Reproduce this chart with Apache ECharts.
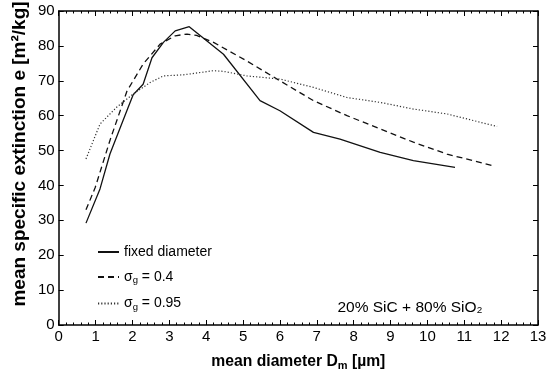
<!DOCTYPE html>
<html><head><meta charset="utf-8">
<script src="https://cdn.jsdelivr.net/npm/echarts@6/dist/echarts.min.js"></script>
<style>html,body{margin:0;padding:0;background:#fff}#c{width:547px;height:371px}</style>
</head><body><div id="c"></div>
<script>
// Data
const fixedX = [0.74, 1.12, 1.39, 1.88, 2.02, 2.29, 2.53, 2.84, 3.16, 3.54, 4.47, 5.46, 6.0, 6.91, 7.63, 8.72, 9.62, 10.75];
const fixedY = [29.2, 39, 49, 62.3, 66, 69, 76.6, 81, 84.3, 85.5, 77.6, 64.3, 61.4, 55.2, 53.3, 49.5, 47.1, 45.2];
const sig04X = [0.74, 0.99, 1.39, 1.85, 2.29, 2.75, 3.16, 3.48, 3.74, 4.2, 5.1, 6.0, 6.91, 7.82, 8.72, 9.62, 10.53, 11.75];
const sig04Y = [33, 39.4, 52.9, 67, 74.8, 80.5, 82.9, 83.4, 83.0, 81, 75.7, 70, 64.3, 60, 56.2, 52.4, 49, 45.7];
const sig095X = [0.74, 1.12, 1.57, 2.02, 2.48, 2.84, 3.38, 4.2, 4.47, 5.1, 6.0, 6.91, 7.82, 8.72, 9.62, 10.53, 11.89];
const sig095Y = [47.6, 57.6, 62.4, 66.2, 69.5, 71.4, 71.7, 72.9, 72.7, 71.4, 70.5, 68.1, 65.2, 63.8, 61.9, 60.5, 56.9];
const seriesNames = ['fixed diameter', 'σg = 0.4', 'σg = 0.95'];
const annotation = '20% SiC + 80% SiO₂';
const yTitle = 'mean specific extinction e [m²/kg]';

const pairs = (xs, ys) => xs.map((x, i) => [x, ys[i]]);
const FONT = 'Liberation Sans, Arial, sans-serif';
const chart = echarts.init(document.getElementById('c'));
const lineCol = '#111';
const axisCommon = {
  axisLine: { show: true, onZero: false, lineStyle: { color: '#000', width: 1.5 } },
  splitLine: { show: false }
};
chart.setOption({
  animation: false,
  backgroundColor: '#fff',
  grid: { left: 58.7, right: 9, top: 11, bottom: 46, containLabel: false, outerBoundsMode: 'none' },
  xAxis: [{
    type: 'value', min: 0, max: 13, interval: 1, position: 'bottom',
    ...axisCommon,
    axisTick: { inside: true, length: 5, lineStyle: { color: '#000' } },
    minorTick: { show: true, splitNumber: 5, length: 2.5, lineStyle: { color: '#000' } },
    axisLabel: { color: '#000', fontFamily: FONT, fontSize: 15, margin: 4 },
    name: '{t|mean diameter D}{s|m}{t| [µm]}', nameLocation: 'middle', nameGap: 28,
    nameTextStyle: { rich: {
      t: { fontFamily: FONT, fontSize: 15.7, fontWeight: 'bold', color: '#000' },
      s: { fontFamily: FONT, fontSize: 11, fontWeight: 'bold', color: '#000', verticalAlign: 'bottom', padding: [7, 0, 0, 0] }
    } }
  }, {
    type: 'value', min: 0, max: 13, interval: 1, position: 'top',
    ...axisCommon,
    axisTick: { inside: true, length: 5, lineStyle: { color: '#000' } },
    minorTick: { show: true, splitNumber: 5, length: 2.5, lineStyle: { color: '#000' } },
    axisLabel: { show: false }
  }],
  yAxis: [{
    type: 'value', min: 0, max: 90, interval: 10, position: 'left',
    ...axisCommon,
    axisTick: { inside: true, length: 5, lineStyle: { color: '#000' } },
    axisLabel: { color: '#000', fontFamily: FONT, fontSize: 15, margin: 4 }
  }, {
    type: 'value', min: 0, max: 90, interval: 10, position: 'right',
    ...axisCommon,
    axisTick: { inside: true, length: 5, lineStyle: { color: '#000' } },
    axisLabel: { show: false }
  }],
  legend: {
    orient: 'vertical', left: 97, top: 245, padding: 0, itemGap: 11, itemWidth: 21, itemHeight: 14,
    data: seriesNames,
    itemStyle: { opacity: 0 },
    formatter: function (n) {
      if (n.indexOf('σg') === 0) return '{t|σ}{s|g}{t|' + n.slice(2) + '}';
      return '{t|' + n + '}';
    },
    textStyle: { rich: {
      t: { fontFamily: FONT, fontSize: 14, color: '#000' },
      s: { fontFamily: FONT, fontSize: 9.5, color: '#000', verticalAlign: 'bottom', padding: [7, 0, 0, 0] }
    } }
  },
  series: [
    { name: seriesNames[0], type: 'line', data: pairs(fixedX, fixedY), symbol: 'none',
      lineStyle: { color: lineCol, width: 1.3, type: 'solid' }, itemStyle: { color: lineCol } },
    { name: seriesNames[1], type: 'line', data: pairs(sig04X, sig04Y), symbol: 'none',
      lineStyle: { color: lineCol, width: 1.3, type: [6, 4] }, itemStyle: { color: lineCol } },
    { name: seriesNames[2], type: 'line', data: pairs(sig095X, sig095Y), symbol: 'none',
      lineStyle: { color: '#333', width: 1.2, type: [1.2, 2] }, itemStyle: { color: lineCol } }
  ],
  graphic: [{
    type: 'text', x: 410, y: 308,
    style: { text: annotation, fontFamily: FONT, fontSize: 15.5, fill: '#000', align: 'center', verticalAlign: 'middle' }
  }, {
    type: 'text', x: 20, y: 154, rotation: Math.PI / 2,
    style: { text: yTitle, fontFamily: FONT, fontSize: 19, fontWeight: 'bold', fill: '#000', align: 'center', verticalAlign: 'middle' }
  }]
});
</script></body></html>
